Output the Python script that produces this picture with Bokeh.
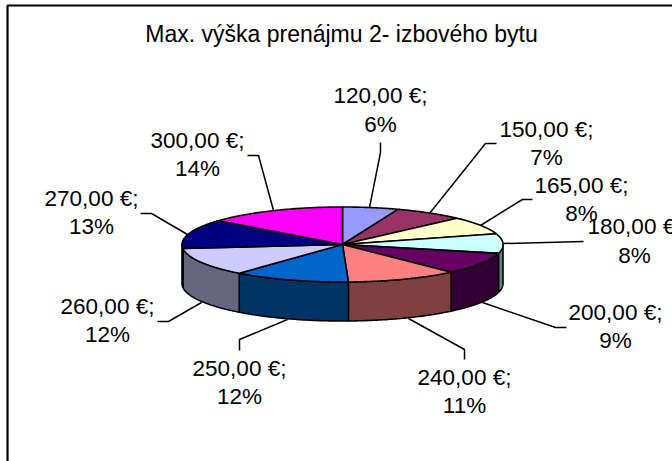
import numpy as np
from bokeh.plotting import figure
from bokeh.core.properties import value
from bokeh.embed import file_html
from bokeh.resources import INLINE

# data
rents = [120, 150, 165, 180, 200, 240, 250, 260, 270, 300]
top_colors = ["#9999FF", "#993366", "#FFFFCC", "#CCFFFF", "#660066",
              "#FF8080", "#0066CC", "#CCCCFF", "#000080", "#FF00FF"]
side_colors = ["#4D4D80", "#4D1A33", "#808066", "#668080", "#330033",
               "#804040", "#003366", "#666680", "#000040", "#800080"]
title = "Max. výška prenájmu 2- izbového bytu"

# layout (pixels of the picture)
W, H = 672, 461
CX, CY, RX, RY, DEPTH = 342, 244, 160.5, 37.5, 39
FONT = value("Liberation Sans")
FS = "22.5px"
TITLE_FS = "23px"
label_x = [380, 546, 581, 634, 615, 464, 239, 107, 91, 197]
label_y1 = [95, 129, 185, 226, 312, 377, 368, 306, 198, 140]
label_y2 = [124, 157, 213, 255, 340, 405, 396, 334, 226, 168]
leader_x = [[380, 380, 369], [496, 485, 429], [532, 522, 480], [583, 503], [566, 555, 482],
            [464, 464, 408], [239, 239, 287], [157, 168, 201], [140, 151, 187], [247, 258, 273]]
leader_y = [[142, 152, 207], [143, 143, 213], [199, 199, 225], [241, 243], [327, 327, 302],
            [359, 349, 318], [350, 339, 319], [321, 321, 302], [213, 213, 234], [155, 155, 210]]

p = figure(width=W, height=H, x_range=(0, W), y_range=(H, 0),
           toolbar_location=None, output_backend="svg",
           min_border=0, outline_line_color=None,
           x_axis_type=None, y_axis_type=None, tools="")
p.grid.visible = False

def arc(a, b, dy=0.0):
    t = np.radians(np.linspace(a, b, 60))
    return CX + RX * np.sin(t), CY + dy - RY * np.cos(t)

# angles from the values, clockwise from 12 o'clock
edges = np.concatenate([[0], np.cumsum(rents)]) / sum(rents) * 360

# sides
sx, sy, sc = [], [], []
for i in range(len(rents)):
    a, b = max(edges[i], 90), min(edges[i + 1], 270)
    if a >= b:
        continue
    x1, y1 = arc(a, b)
    x2, y2 = arc(b, a, DEPTH)
    sx.append(np.concatenate([x1, x2]).tolist())
    sy.append(np.concatenate([y1, y2]).tolist())
    sc.append(side_colors[i])
p.patches(sx, sy, fill_color=sc, line_color="black", line_width=1.6)

# top
tx, ty = [], []
for i in range(len(rents)):
    x1, y1 = arc(edges[i], edges[i + 1])
    tx.append([CX] + x1.tolist())
    ty.append([CY] + y1.tolist())
p.patches(tx, ty, fill_color=top_colors, line_color="black", line_width=1.6)

# leaders
p.multi_line(leader_x, leader_y, line_color="black", line_width=1.5)

# frame
p.line([7, 7, W], [H, 5, 5], line_color="black", line_width=2.2)

# texts
line1 = [f"{v:.2f}".replace(".", ",") + " €;" for v in rents]
line2 = [f"{round(v / sum(rents) * 100)}%" for v in rents]
for ys, txt in ((label_y1, line1), (label_y2, line2)):
    p.text(label_x, ys, text=txt, text_font=FONT, text_font_size=FS,
           text_align="center", text_baseline="middle", text_color="black")
p.text([341], [33], text=[title], text_font=FONT, text_font_size=TITLE_FS,
       text_align="center", text_baseline="middle", text_color="black")

open("out.html", "w").write(file_html(p, INLINE))
